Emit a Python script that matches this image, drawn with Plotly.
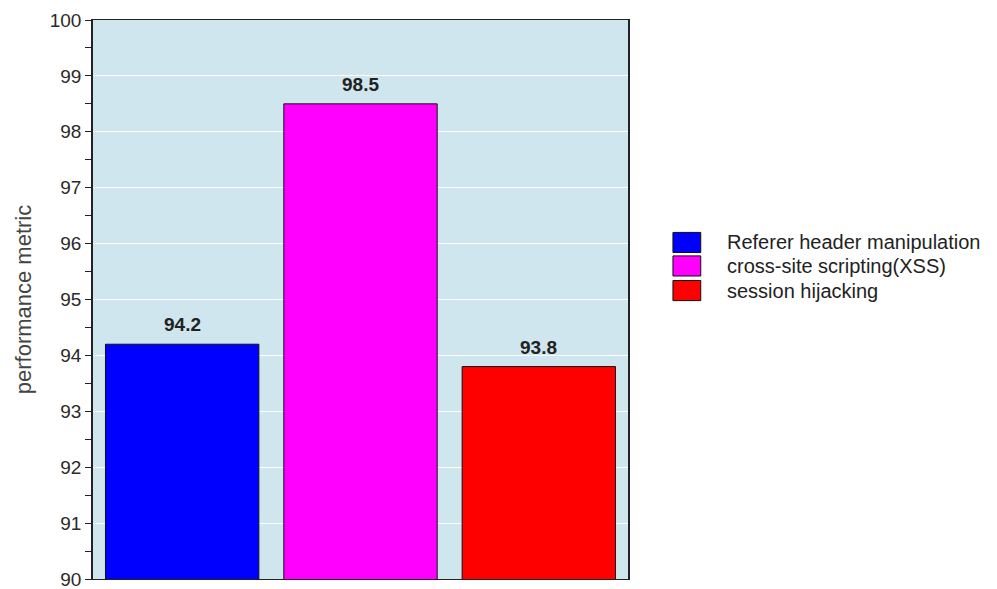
import plotly.graph_objects as go

categories = ["Referer header manipulation", "cross-site scripting(XSS)", "session hijacking"]
values = [94.2, 98.5, 93.8]
colors = ["#0000ff", "#ff00ff", "#ff0000"]
y_title = "performance metric"
y_range = [90, 100]

FONT = "Liberation Sans, Arial"

fig = go.Figure()
xs = list(range(len(categories)))
fig.add_trace(go.Bar(
    x=xs,
    y=values,
    marker=dict(color=colors, line=dict(color="#111111", width=1)),
    width=0.86,
    showlegend=False,
))

# value labels above bars
for xi, v in zip(xs, values):
    fig.add_annotation(x=xi, y=v, text=f"<b>{v:.1f}</b>", showarrow=False,
                       xanchor="center", yanchor="bottom", yshift=7,
                       font=dict(family=FONT, size=19, color="#222222"))

# custom legend (swatches + labels)
leg_y = [0.602, 0.560, 0.516]
for c, col, yc in zip(categories, colors, leg_y):
    fig.add_shape(type="rect", xref="paper", yref="paper",
                  x0=1.084, x1=1.136, y0=yc - 0.018, y1=yc + 0.018,
                  fillcolor=col, line=dict(color="#111111", width=1))
    fig.add_annotation(xref="paper", yref="paper", x=1.181, y=yc, text=c,
                       showarrow=False, xanchor="left", yanchor="middle",
                       font=dict(family=FONT, size=20, color="#222222"))

fig.update_layout(
    width=997, height=589,
    margin=dict(l=93, r=369, t=20, b=10),
    paper_bgcolor="white",
    plot_bgcolor="#cfe6ee",
    bargap=0.14,
    font=dict(family=FONT, size=16, color="#333333"),
)
fig.update_xaxes(
    range=[-0.5, 2.5], showticklabels=False, showgrid=False, ticks="",
    showline=True, linecolor="#222222", linewidth=1, mirror=True, zeroline=False,
    automargin=False,
)
fig.update_yaxes(
    range=y_range, dtick=1, tick0=90,
    showgrid=True, gridcolor="white", gridwidth=1,
    showline=True, linecolor="#222222", linewidth=1.5, mirror=True,
    ticks="outside", ticklen=6, tickcolor="#222222",
    minor=dict(dtick=0.5, ticks="outside", ticklen=6, tickcolor="#222222", showgrid=False),
    tickfont=dict(size=19, color="#2a2a2a"),
    ticklabeloverflow="allow",
    title=dict(text=y_title, font=dict(size=22, color="#444444"), standoff=12),
    zeroline=False,
    automargin=False,
)

fig.write_html("out.html")
